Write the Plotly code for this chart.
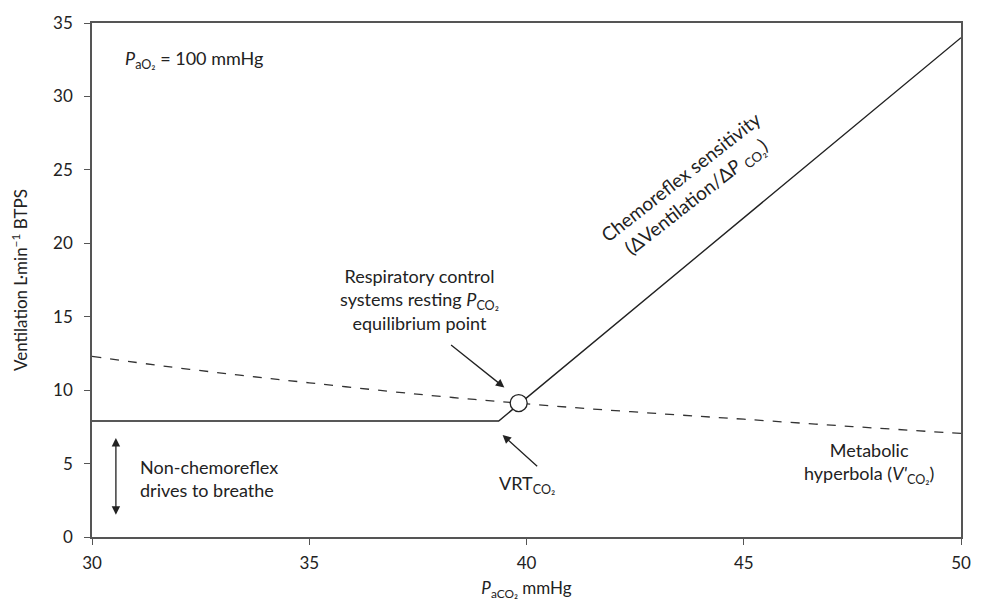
import plotly.graph_objects as go

# Chemoreflex response line (solid)
chemo_x = [30, 39.36, 50]
chemo_y = [7.9, 7.9, 34.0]

# Metabolic hyperbola (dashed)
hyp_x = [30, 31.7, 33.4, 35.0, 36.8, 38.3, 39.8, 41.5, 43.3, 45.0, 47.5, 50]
hyp_y = [12.3, 11.62, 11.02, 10.5, 9.93, 9.5, 9.12, 8.72, 8.35, 8.02, 7.52, 7.05]

# Equilibrium point
eq_x = [39.82]
eq_y = [9.12]

x_ticks = [30, 35, 40, 45, 50]
y_ticks = [0, 5, 10, 15, 20, 25, 30, 35]

FONT = "Lato"
TXT = "#222222"
AS = 18  # annotation font size
TS = 17  # tick / axis title size

fig = go.Figure()
fig.add_trace(go.Scatter(x=hyp_x, y=hyp_y, mode="lines",
                         line=dict(color="#333333", width=1.3, dash="dash", shape="spline"),
                         hoverinfo="skip", showlegend=False))
fig.add_trace(go.Scatter(x=chemo_x, y=chemo_y, mode="lines",
                         line=dict(color="#222222", width=1.4),
                         hoverinfo="skip", showlegend=False))
fig.add_trace(go.Scatter(x=eq_x, y=eq_y, mode="markers",
                         marker=dict(size=17, color="white", line=dict(color="#222222", width=1.3)),
                         hoverinfo="skip", showlegend=False))

ann = []
def txt(x, y, text, xanchor="center", align="center", angle=0, size=AS):
    ann.append(dict(x=x, y=y, xref="x", yref="y", text=text, showarrow=False,
                    xanchor=xanchor, yanchor="middle", align=align, textangle=angle,
                    font=dict(family=FONT, size=size, color=TXT)))

def arrow(x, y, ax, ay, side="end"):
    ann.append(dict(x=x, y=y, ax=ax, ay=ay, xref="x", yref="y", axref="x", ayref="y",
                    text="", showarrow=True, arrowhead=2, arrowsize=1.3, arrowwidth=1.3,
                    arrowcolor="#222222", arrowside=side))

txt(30.71, 32.5, "<i>P</i><sub>aO₂</sub> = 100 mmHg", xanchor="left")
txt(37.54, 16.18, "Respiratory control<br>systems resting <i>P</i><sub>CO₂</sub><br>equilibrium point")
arrow(39.49, 10.18, 38.23, 13.15)
arrow(39.45, 6.95, 40.28, 4.72)
txt(40.0, 3.55, "VRT<sub>CO₂</sub>")
txt(31.06, 4.01, "Non-chemoreflex<br>drives to breathe", xanchor="left", align="left")
arrow(30.55, 6.74, 30.55, 1.42, side="end+start")
txt(47.89, 5.06, "Metabolic<br>hyperbola (<i>V'</i><sub>CO₂</sub>)")
txt(43.75, 23.8, "Chemoreflex sensitivity<br>(ΔVentilation/Δ<i>P</i> <sub>CO₂</sub>)", angle=-38, size=19)

fig.update_layout(
    width=983, height=612,
    margin=dict(l=92, r=21, t=18, b=75),
    paper_bgcolor="white", plot_bgcolor="white",
    font=dict(family=FONT, size=TS, color=TXT),
    annotations=ann,
    xaxis=dict(range=[30, 50], tickvals=x_ticks, ticks="outside", ticklen=6,
               tickcolor="#555555", showline=True, linecolor="#555555", linewidth=1.5,
               mirror=True, showgrid=False, zeroline=False, ticklabelstandoff=4,
               tickfont=dict(family=FONT, size=TS, color=TXT),
               title=dict(text="<i>P</i><sub>aCO₂</sub> mmHg", standoff=10,
                          font=dict(family=FONT, size=TS, color=TXT))),
    yaxis=dict(range=[0, 35], tickvals=y_ticks, ticks="outside", ticklen=6,
               tickcolor="#555555", showline=True, linecolor="#555555", linewidth=1.5,
               mirror=True, showgrid=False, zeroline=False, ticklabelstandoff=8,
               tickfont=dict(family=FONT, size=TS, color=TXT),
               title=dict(text="Ventilation L·min<sup>−1</sup> BTPS", standoff=21,
                          font=dict(family=FONT, size=TS, color=TXT))),
)

fig.write_html("out.html")
